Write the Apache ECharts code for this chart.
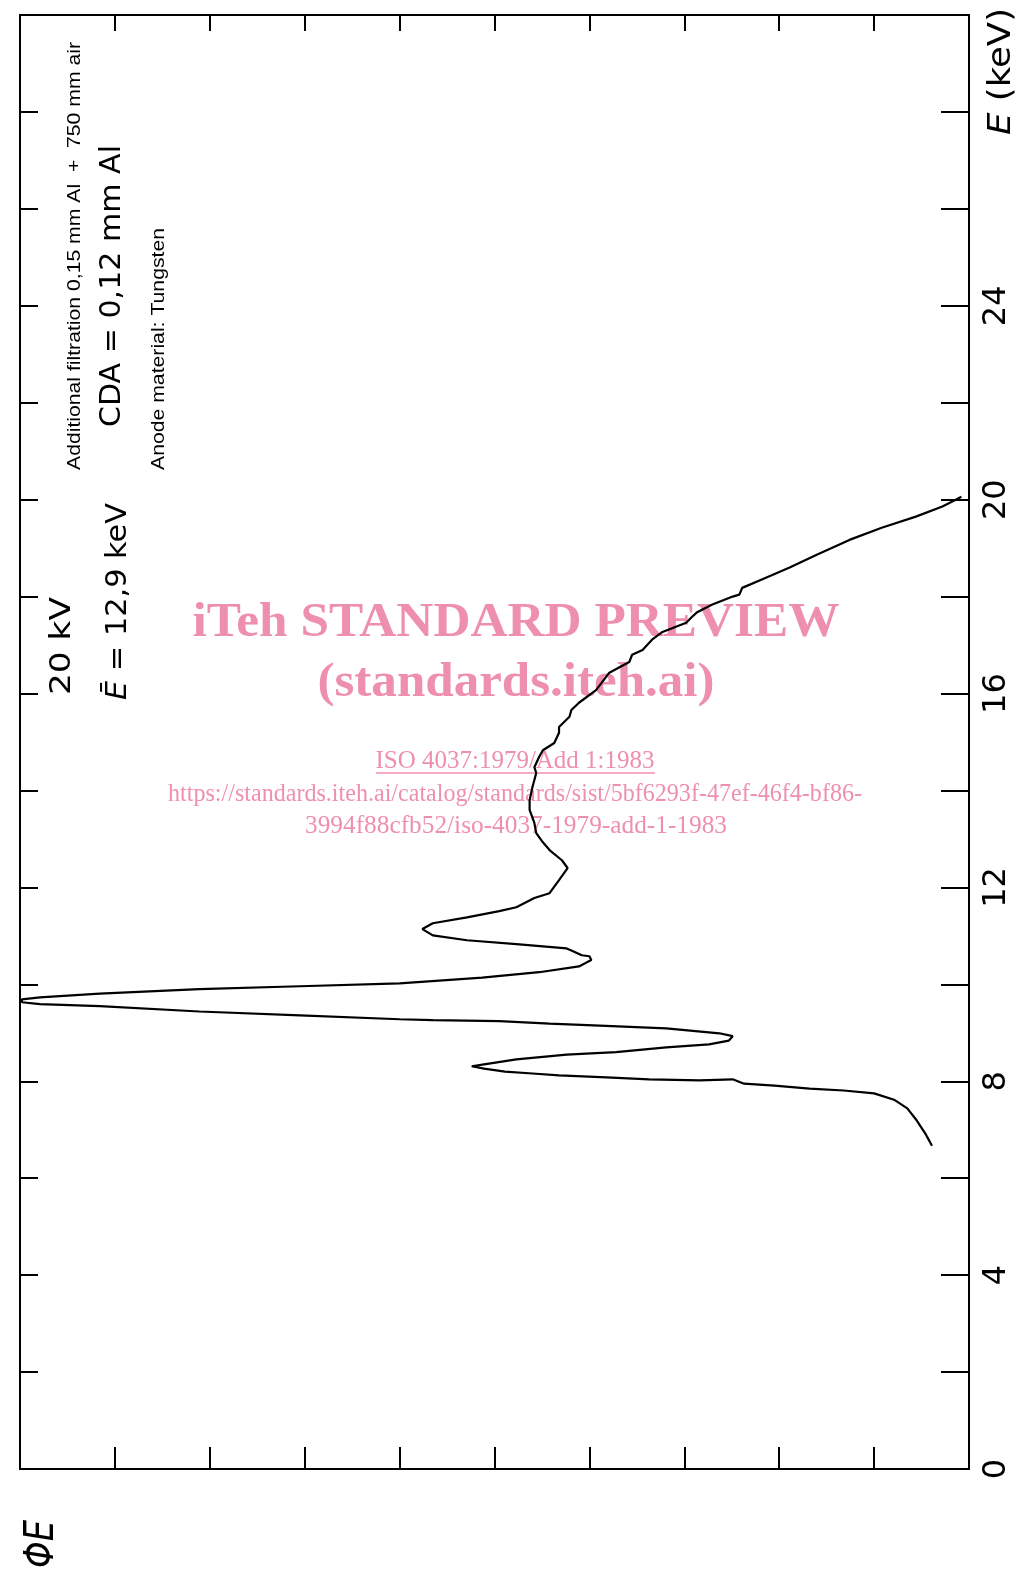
<!DOCTYPE html>
<html>
<head>
<meta charset="utf-8">
<script src="https://cdn.jsdelivr.net/npm/echarts@6/dist/echarts.min.js"></script>
<style>
html,body{margin:0;padding:0;background:#fff;}
#chart{width:1027px;height:1573px;}
</style>
</head>
<body>
<div id="chart"></div>
<script>
// Photon fluence per energy interval (arbitrary units, 0..10)
const phiValues = [0.39,0.46,0.55,0.65,0.79,1.00,1.32,1.68,2.05,2.37,
  2.49,2.84,3.37,3.82,4.32,4.60,4.89,5.11,5.24,5.11,
  4.77,4.24,3.72,3.19,2.74,2.53,2.49,2.63,3.19,3.89,
  4.42,4.95,5.65,6.00,7.05,8.11,9.16,9.79,9.98,9.98,
  9.79,9.16,8.11,7.05,6.00,5.13,4.53,4.11,3.98,4.00,
  4.08,4.19,4.24,4.77,5.29,5.65,5.76,5.65,5.29,4.95,
  4.77,4.58,4.42,4.32,4.23,4.29,4.42,4.49,4.56,4.58,
  4.63,4.63,4.60,4.56,4.58,4.53,4.49,4.37,4.32,4.32,
  4.21,4.19,4.11,3.93,3.79,3.58,3.55,3.44,3.34,3.23,
  2.98,2.92,2.87,2.71,2.49,2.42,2.39,2.14,1.89,1.61,
  1.26,0.92,0.56,0.28,0.14,0.08];
// Photon energy (keV)
const energyValues = [6.67,6.92,7.19,7.44,7.62,7.75,7.81,7.85,7.91,7.95,
  8.04,8.02,8.04,8.08,8.12,8.16,8.20,8.26,8.31,8.35,
  8.45,8.55,8.60,8.70,8.76,8.84,8.93,8.99,9.09,9.15,
  9.19,9.24,9.26,9.28,9.36,9.44,9.55,9.59,9.63,9.69,
  9.73,9.81,9.90,9.96,10.02,10.14,10.25,10.37,10.50,10.58,
  10.60,10.70,10.74,10.83,10.91,11.01,11.14,11.26,11.38,11.51,
  11.59,11.78,11.88,12.15,12.40,12.56,12.77,12.93,13.12,13.33,
  13.60,13.80,14.07,14.36,14.48,14.69,14.83,14.98,15.19,15.31,
  15.52,15.66,15.81,16.07,16.43,16.65,16.80,16.90,17.11,17.27,
  17.46,17.58,17.67,17.83,18.00,18.04,18.18,18.39,18.60,18.86,
  19.17,19.42,19.65,19.86,20.00,20.06];
const energyTickLabels = [0, 4, 8, 12, 16, 20, 24];

const SANS = 'Liberation Sans, Arial, Helvetica, sans-serif';
const DEJA = 'DejaVu Sans, Verdana, sans-serif';
const SERIF = 'Liberation Serif, Times New Roman, serif';
const PINK = '#EE8FAE';

const measureCtx = document.createElement('canvas').getContext('2d');
function measure(parts) {
  let w = 0;
  parts.forEach(p => {
    measureCtx.font = (p.style || 'normal') + ' ' + (p.weight || 'normal') + ' ' + p.size + 'px ' + p.family;
    w += measureCtx.measureText(p.text).width;
  });
  return w;
}
// vertical text, read bottom-to-top
function vText(text, cx, yStart, yEnd, size, opt) {
  opt = opt || {};
  const fam = opt.family || SANS;
  const parts = opt.parts || [{text: text, size: size, family: fam, style: opt.fontStyle, weight: opt.fontWeight}];
  const w = measure(parts);
  const s = (yStart - yEnd) / w;
  return {
    type: 'text', x: cx, y: (yStart + yEnd) / 2, rotation: Math.PI / 2, scaleX: s, z: 10,
    style: {
      text: opt.rich ? opt.richText : text, fill: '#000', fontSize: size, fontFamily: fam,
      fontStyle: opt.fontStyle || 'normal', fontWeight: opt.fontWeight || 'normal',
      align: 'center', verticalAlign: 'middle', rich: opt.rich
    }
  };
}
function hText(text, cx, cy, size, width, weight) {
  const w = measure([{text: text, size: size, family: SERIF, weight: weight}]);
  return {
    type: 'text', x: cx, y: cy, scaleX: width / w, z: 1,
    style: {
      text: text, fill: PINK, fontSize: size, fontFamily: SERIF, fontWeight: weight || 'normal',
      align: 'center', verticalAlign: 'middle'
    }
  };
}

const seriesData = phiValues.map((p, i) => [p, energyValues[i]]);

const chart = echarts.init(document.getElementById('chart'), null, {renderer: 'canvas'});

const axisLineStyle = {color: '#000', width: 2};
const option = {
  backgroundColor: '#fff',
  animation: false,
  grid: {left: 20, right: 58, top: 15, bottom: 104, containLabel: false, outerBoundsMode: 'none'},
  xAxis: [
    {
      type: 'value', min: 0, max: 10, interval: 1, inverse: true, position: 'bottom',
      axisLine: {show: true, onZero: false, lineStyle: axisLineStyle},
      axisTick: {show: true, inside: true, length: 22, lineStyle: {color: '#000', width: 2}},
      axisLabel: {show: false}, splitLine: {show: false}
    },
    {
      type: 'value', min: 0, max: 10, interval: 1, inverse: true, position: 'top',
      axisLine: {show: true, onZero: false, lineStyle: axisLineStyle},
      axisTick: {show: true, inside: true, length: 16, lineStyle: {color: '#000', width: 2}},
      axisLabel: {show: false}, splitLine: {show: false}
    }
  ],
  yAxis: [
    {
      type: 'value', min: 0, max: 30, interval: 2, position: 'right',
      axisLine: {show: true, onZero: false, lineStyle: axisLineStyle},
      axisTick: {show: true, inside: true, length: 28, lineStyle: {color: '#000', width: 2}},
      axisLabel: {
        show: true, rotate: 90, margin: 12, color: '#000', fontSize: 32, fontFamily: DEJA,
        formatter: v => energyTickLabels.indexOf(v) >= 0 ? String(v) : ''
      },
      splitLine: {show: false}
    },
    {
      type: 'value', min: 0, max: 30, interval: 2, position: 'left',
      axisLine: {show: true, onZero: false, lineStyle: axisLineStyle},
      axisTick: {show: true, inside: true, length: 18, lineStyle: {color: '#000', width: 2}},
      axisLabel: {show: false}, splitLine: {show: false}
    }
  ],
  series: [{
    type: 'line', xAxisIndex: 0, yAxisIndex: 0, data: seriesData,
    symbol: 'none', smooth: false, z: 5,
    lineStyle: {color: '#000', width: 2.2}
  }],
  graphic: [
    hText('iTeh STANDARD PREVIEW', 516, 624, 48, 647, 'bold'),
    hText('(standards.iteh.ai)', 516, 684, 48, 397, 'bold'),
    hText('ISO 4037:1979/Add 1:1983', 515, 761, 26, 279),
    {type: 'line', z: 1, shape: {x1: 376, y1: 773, x2: 655, y2: 773}, style: {stroke: PINK, lineWidth: 1.5}},
    hText('https://standards.iteh.ai/catalog/standards/sist/5bf6293f-47ef-46f4-bf86-', 515, 794, 26, 694),
    hText('3994f88cfb52/iso-4037-1979-add-1-1983', 516, 826, 26, 422),
    vText('Additional filtration 0,15 mm Al  +  750 mm air', 75, 470, 42, 19),
    vText('CDA = 0,12 mm Al', 113, 427, 145, 28, {family: DEJA}),
    vText('Anode material: Tungsten', 159, 470, 228, 19),
    vText('20 kV', 63, 695, 597, 28, {family: DEJA}),
    vText('E\u0304 = 12,9 keV', 118, 700, 503, 29, {
      family: DEJA,
      rich: {i: {fontStyle: 'italic', fontSize: 29, fontFamily: DEJA, fill: '#000'}},
      richText: '{i|E\u0304} = 12,9 keV',
      parts: [{text: 'E\u0304', size: 29, family: DEJA, style: 'italic'}, {text: ' = 12,9 keV', size: 29, family: DEJA}]
    }),
    vText('E (keV)', 1002, 135, 8, 32, {
      family: DEJA,
      rich: {i: {fontStyle: 'italic', fontSize: 32, fontFamily: DEJA, fill: '#000'}},
      richText: '{i|E} (keV)',
      parts: [{text: 'E', size: 32, family: DEJA, style: 'italic'}, {text: ' (keV)', size: 32, family: DEJA}]
    }),
    vText('\u03A6E', 43, 1568, 1520, 40, {family: DEJA, fontStyle: 'italic'})
  ]
};
chart.setOption(option);
</script>
</body>
</html>
